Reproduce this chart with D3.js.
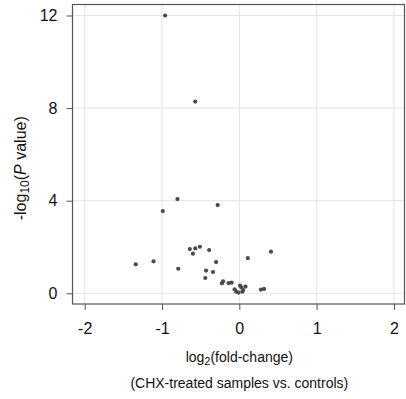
<!DOCTYPE html>
<html>
<head>
<meta charset="utf-8">
<script src="https://cdn.jsdelivr.net/npm/d3@7"></script>
<style>
  html, body { margin: 0; padding: 0; background: #fff; }
  svg { display: block; font-family: "Liberation Sans", Arial, sans-serif; }
</style>
</head>
<body>
<svg id="chart" width="406" height="399"></svg>
<script>
// Volcano plot: log2 fold-change vs -log10 P value
const foldChange = [
  -0.96, -0.57, -0.80, -0.99, -0.28,
  -1.34, -1.11, -0.79, -0.64, -0.60,
  -0.57, -0.51, -0.39, -0.43, -0.44,
  -0.30, -0.34, -0.225, -0.21, -0.14,
  -0.10, -0.06, -0.04, -0.01, 0.01,
  0.025, 0.04, 0.05, 0.08, 0.11,
  0.28, 0.32, 0.41
];
const negLogP = [
  12.0, 8.28, 4.07, 3.55, 3.81,
  1.25, 1.38, 1.06, 1.91, 1.71,
  1.94, 2.01, 1.87, 0.98, 0.66,
  1.35, 0.92, 0.43, 0.52, 0.44,
  0.46, 0.17, 0.07, 0.03, 0.33,
  0.26, 0.07, 0.14, 0.29, 1.52,
  0.16, 0.19, 1.80
];
const xTicks = [-2, -1, 0, 1, 2];
const yTicks = [0, 4, 8, 12];

const svg = d3.select("#chart");
const plot = { left: 72.5, right: 404.5, top: 4.5, bottom: 304 };

const x = d3.scaleLinear().domain([-2.158, 2.137]).range([plot.left, plot.right]);
const y = d3.scaleLinear().domain([-0.462, 12.475]).range([plot.bottom, plot.top]);

// grid
const grid = svg.append("g").attr("stroke", "#e3e3e3").attr("stroke-width", 1);
grid.selectAll("line.v").data(xTicks).join("line")
  .attr("x1", d => x(d)).attr("x2", d => x(d))
  .attr("y1", plot.top).attr("y2", plot.bottom);
grid.selectAll("line.h").data(yTicks).join("line")
  .attr("y1", d => y(d)).attr("y2", d => y(d))
  .attr("x1", plot.left).attr("x2", plot.right);

// axes (plain hyphen for negative labels)
const plainLabel = d => String(d);
const xAxis = svg.append("g")
  .attr("transform", `translate(0,${plot.bottom})`)
  .call(d3.axisBottom(x).tickValues(xTicks).tickSize(6).tickPadding(13).tickFormat(plainLabel));
const yAxis = svg.append("g")
  .attr("transform", `translate(${plot.left},0)`)
  .call(d3.axisLeft(y).tickValues(yTicks).tickSize(6).tickPadding(9).tickFormat(plainLabel));
[xAxis, yAxis].forEach(g => {
  g.select(".domain").remove();
  g.selectAll(".tick line").attr("stroke", "#555");
  g.selectAll(".tick text").attr("fill", "#111").style("font-size", "16px")
    .style("font-family", "'Liberation Sans', Arial, sans-serif");
});

// frame
svg.append("rect")
  .attr("x", plot.left).attr("y", plot.top)
  .attr("width", plot.right - plot.left).attr("height", plot.bottom - plot.top)
  .attr("fill", "none").attr("stroke", "#555").attr("stroke-width", 1.2);

// points
svg.append("g").selectAll("circle")
  .data(foldChange.map((f, i) => [f, negLogP[i]]))
  .join("circle")
  .attr("cx", d => x(d[0])).attr("cy", d => y(d[1]))
  .attr("r", 2.1).attr("fill", "#4a4a4a");

// axis titles
const xTitle = svg.append("text")
  .attr("x", x(0)).attr("y", 362)
  .attr("text-anchor", "middle").style("font-size", "14px").attr("fill", "#111");
xTitle.append("tspan").text("log");
xTitle.append("tspan").attr("dy", 3).style("font-size", "11px").text("2");
xTitle.append("tspan").attr("dy", -3).text("(fold-change)");

svg.append("text")
  .attr("x", x(0)).attr("y", 388)
  .attr("text-anchor", "middle").style("font-size", "14px").attr("fill", "#111")
  .text("(CHX-treated samples vs. controls)");

const yTitle = svg.append("text")
  .attr("transform", `translate(26,${(plot.top + plot.bottom) / 2 + 14}) rotate(-90)`)
  .attr("text-anchor", "middle").style("font-size", "16px").attr("fill", "#111");
yTitle.append("tspan").text("-log");
yTitle.append("tspan").attr("dy", 3).style("font-size", "12px").text("10");
yTitle.append("tspan").attr("dy", -3).text("(");
yTitle.append("tspan").style("font-style", "italic").text("P");
yTitle.append("tspan").text(" value)");
</script>
</body>
</html>
